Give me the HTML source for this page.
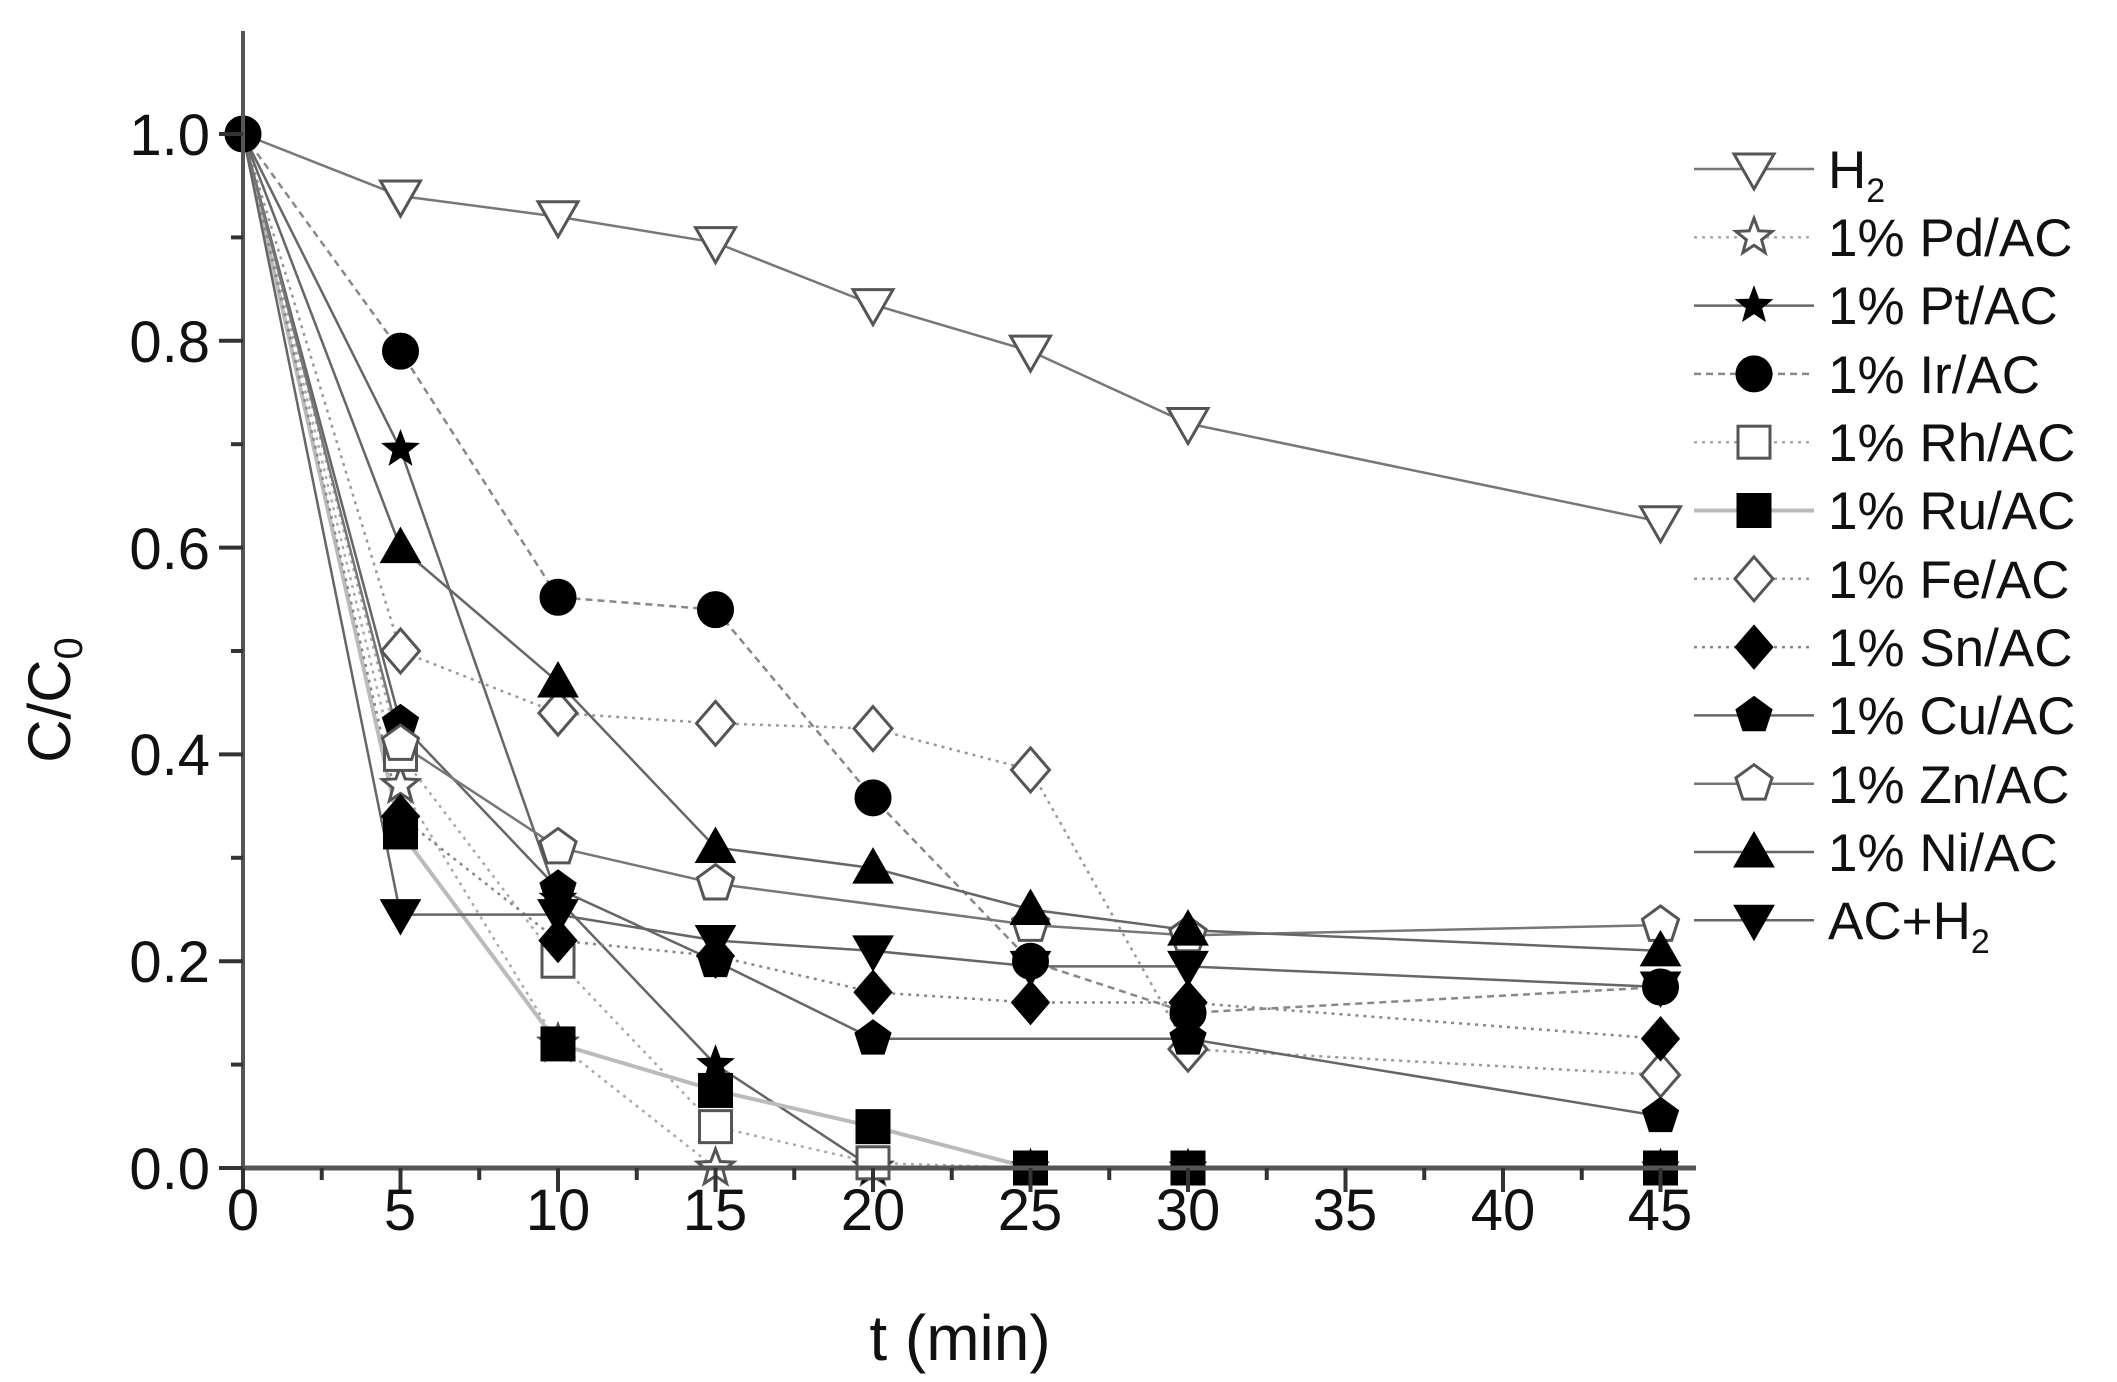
<!DOCTYPE html>
<html><head><meta charset="utf-8"><style>
html,body{margin:0;padding:0;background:#fff;}
svg{display:block;font-family:"Liberation Sans",Arial,sans-serif;}
</style></head><body>
<svg id="s" width="2117" height="1382" viewBox="0 0 2117 1382" xmlns="http://www.w3.org/2000/svg">
<rect width="2117" height="1382" fill="#fff"/>
<g id="series"></g>
<line x1="243" y1="31" x2="243" y2="1168" stroke="#555" stroke-width="4"/>
<line x1="243" y1="1168" x2="1696" y2="1168" stroke="#555" stroke-width="5"/>
<g id="ticks" stroke="#333" stroke-width="4"></g>
<g font-size="58" fill="#111" text-anchor="end">
<text x="210" y="1189">0.0</text>
<text x="210" y="982">0.2</text>
<text x="210" y="775">0.4</text>
<text x="210" y="569">0.6</text>
<text x="210" y="362">0.8</text>
<text x="210" y="155">1.0</text>
</g>
<g font-size="58" fill="#111" text-anchor="middle">
<text x="243" y="1230">0</text>
<text x="400" y="1230">5</text>
<text x="558" y="1230">10</text>
<text x="715" y="1230">15</text>
<text x="873" y="1230">20</text>
<text x="1030" y="1230">25</text>
<text x="1188" y="1230">30</text>
<text x="1345" y="1230">35</text>
<text x="1503" y="1230">40</text>
<text x="1660" y="1230">45</text>
</g>
<text x="960" y="1360" font-size="64" fill="#111" text-anchor="middle">t (min)</text>
<text transform="translate(70,700) rotate(-90)" font-size="60" fill="#111" text-anchor="middle">C/C<tspan font-size="40" dy="12">0</tspan></text>
<g id="legend"></g>
<g font-size="53" fill="#111">
<text x="1828" y="188">H<tspan font-size="34" dy="14">2</tspan></text>
<text x="1828" y="256">1% Pd/AC</text>
<text x="1828" y="324">1% Pt/AC</text>
<text x="1828" y="393">1% Ir/AC</text>
<text x="1828" y="461">1% Rh/AC</text>
<text x="1828" y="529">1% Ru/AC</text>
<text x="1828" y="598">1% Fe/AC</text>
<text x="1828" y="666">1% Sn/AC</text>
<text x="1828" y="734">1% Cu/AC</text>
<text x="1828" y="803">1% Zn/AC</text>
<text x="1828" y="871">1% Ni/AC</text>
<text x="1828" y="939">AC+H<tspan font-size="34" dy="14">2</tspan></text>
</g>
</svg>
<script>
(function(){
var NS="http://www.w3.org/2000/svg";
function X(t){return 243+31.5*t;}
function Y(v){return 1168-1034*v;}
function el(n,a,p){var e=document.createElementNS(NS,n);for(var k in a)e.setAttribute(k,a[k]);p.appendChild(e);return e;}
var tk=document.getElementById('ticks');
for(var i=0;i<=10;i++){var y=Y(i*0.1);var L=(i%2==0)?24:12;el('line',{x1:243-L,y1:y,x2:243,y2:y},tk);}
for(var t=0;t<=45;t+=2.5){var L=(t%5==0)?24:12;el('line',{x1:X(t),y1:1168,x2:X(t),y2:1168+L},tk);}
var S=[
{m:'tri_d',f:0,ls:'solid',c:'#777',d:[[0,1],[5,.94],[10,.92],[15,.895],[20,.835],[25,.79],[30,.72],[45,.625]]},
{m:'star',f:0,ls:'dot',c:'#aaa',d:[[0,1],[5,.37],[10,.12],[15,0],[20,0]]},
{m:'star',f:1,ls:'solid',c:'#666',d:[[0,1],[5,.695],[10,.26],[15,.1],[20,0],[25,0],[30,0],[45,0]]},
{m:'circ',f:1,ls:'dash',c:'#888',d:[[0,1],[5,.79],[10,.552],[15,.54],[20,.358],[25,.2],[30,.15],[45,.175]]},
{m:'sq',f:0,ls:'dot',c:'#aaa',d:[[0,1],[5,.40],[10,.20],[15,.04],[20,.005],[25,0]]},
{m:'sq',f:1,ls:'solid',c:'#bbb',w:4,d:[[0,1],[5,.325],[10,.12],[15,.075],[20,.04],[25,0],[30,0],[45,0]]},
{m:'dia',f:0,ls:'dot',c:'#999',d:[[0,1],[5,.50],[10,.44],[15,.43],[20,.425],[25,.385],[30,.115],[45,.09]]},
{m:'dia',f:1,ls:'dot',c:'#888',d:[[0,1],[5,.34],[10,.22],[15,.205],[20,.17],[25,.16],[30,.16],[45,.125]]},
{m:'pent',f:1,ls:'solid',c:'#666',d:[[0,1],[5,.43],[10,.27],[15,.2],[20,.125],[30,.125],[45,.05]]},
{m:'pent',f:0,ls:'solid',c:'#777',d:[[0,1],[5,.41],[10,.31],[15,.275],[25,.235],[30,.225],[45,.235]]},
{m:'tri_u',f:1,ls:'solid',c:'#666',d:[[0,1],[5,.60],[10,.47],[15,.31],[20,.29],[25,.25],[30,.23],[45,.21]]},
{m:'tri_d',f:1,ls:'solid',c:'#666',d:[[0,1],[5,.245],[10,.245],[15,.22],[20,.21],[25,.195],[30,.195],[45,.175]]}
];
function dash(ls){return ls=='dot'?'3,5':(ls=='dash'?'7,5':'none');}
function marker(g,m,f,x,y){
 var fill=f?'#000':'#fff',st=f?'#000':'#555',sw=3,pts;
 if(m=='circ'){el('circle',{cx:x,cy:y,r:17,fill:fill,stroke:st,'stroke-width':sw},g);return;}
 if(m=='sq'){el('rect',{x:x-16,y:y-16,width:32,height:32,fill:fill,stroke:st,'stroke-width':sw},g);return;}
 if(m=='tri_d')pts=[[x-20,y-15],[x+20,y-15],[x,y+20]];
 else if(m=='tri_u')pts=[[x-20,y+15],[x+20,y+15],[x,y-20]];
 else if(m=='dia')pts=[[x,y-22],[x+19,y],[x,y+22],[x-19,y]];
 else if(m=='pent'){pts=[];for(var i=0;i<5;i++){var a=-Math.PI/2+i*2*Math.PI/5;pts.push([x+19*Math.cos(a),y+19*Math.sin(a)]);}}
 else if(m=='star'){pts=[];for(var i=0;i<10;i++){var a=-Math.PI/2+i*Math.PI/5,rr=i%2?8:19;pts.push([x+rr*Math.cos(a),y+rr*Math.sin(a)]);}}
 el('polygon',{points:pts.map(function(p){return p.join(',')}).join(' '),fill:fill,stroke:st,'stroke-width':f?1:sw},g);
}
var sg=document.getElementById('series');
S.forEach(function(s){
 el('polyline',{points:s.d.map(function(p){return X(p[0])+','+Y(p[1])}).join(' '),fill:'none',stroke:s.c,'stroke-width':s.w||2.5,'stroke-dasharray':dash(s.ls)},sg);
});
S.forEach(function(s){s.d.forEach(function(p){if(p[0]==0&&s.m!='circ')return;marker(sg,s.m,s.f,X(p[0]),Y(p[1]));});});
var lg=document.getElementById('legend');
S.forEach(function(s,i){
 var y=169+68.3*i;
 el('line',{x1:1694,y1:y,x2:1814,y2:y,stroke:s.c,'stroke-width':s.w||2.5,'stroke-dasharray':dash(s.ls)},lg);
 marker(lg,s.m,s.f,1754,y);
});
})();
</script>
</body></html>
